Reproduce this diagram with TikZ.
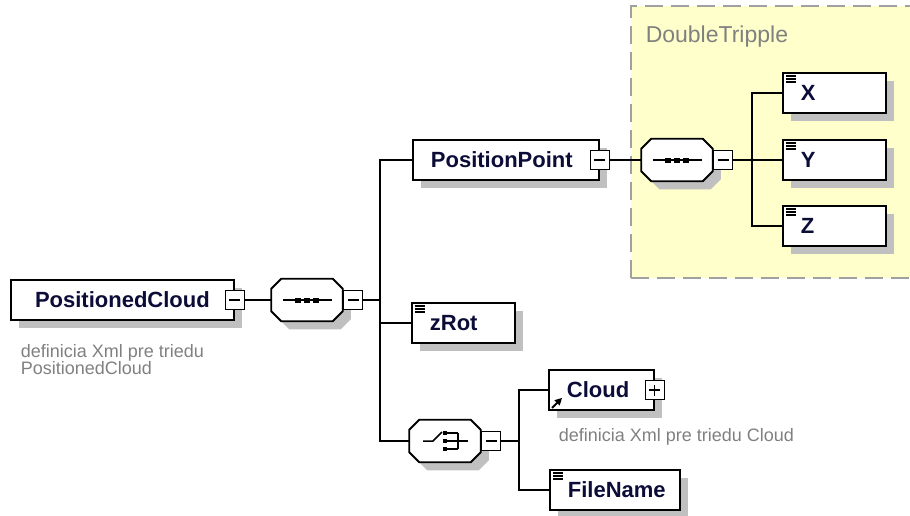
\documentclass[tikz,border=0pt]{standalone}
\usepackage{fontspec}
\setmainfont{Liberation Sans}
\usetikzlibrary{shadows,arrows.meta}
\definecolor{shade}{RGB}{192,192,192}
\definecolor{groupfill}{RGB}{255,255,204}
\definecolor{grpline}{RGB}{160,160,160}
\definecolor{ink}{RGB}{12,12,56}
\definecolor{note}{RGB}{128,128,128}

\begin{document}
\begin{tikzpicture}[x=1pt, y=-1pt, line width=1.5pt,
    shadowed/.style = {general shadow={fill=shade, shadow xshift=8pt, shadow yshift=-8pt}},
    elem/.style = {shape=rectangle, draw, line width=1.8pt, fill=white, shadowed, anchor=west, text width=#1, align=left, inner xsep=18pt, inner ysep=0pt, minimum height=40pt, text=ink, font=\fontsize{22}{24}\selectfont\bfseries},
    elem/.default=67pt,
    simple/.style = {elem=#1, path picture={\foreach \k in {3,6,9} \draw[line width=1.3pt] ([shift={(3pt,-\k pt)}]path picture bounding box.north west) -- +(10pt,0);}},
    simple/.default=67pt,
    comp/.style = {shape=rectangle, inner sep=0pt, minimum width=70pt, minimum height=41pt},
    octagon/.style = {draw, line width=1.8pt, fill=white, shadowed},
    togbox/.style = {shape=rectangle, draw, fill=white, line width=1.5pt, minimum size=19pt, inner sep=0pt},
    minus/.style = {togbox, path picture={\draw[line width=1.3pt] ([xshift=4pt]path picture bounding box.west) -- ([xshift=-4pt]path picture bounding box.east);}},
    plus/.style = {togbox, path picture={\draw[line width=1.3pt] ([xshift=4pt]path picture bounding box.west) -- ([xshift=-4pt]path picture bounding box.east); \draw[line width=1.3pt] ([yshift=4pt]path picture bounding box.south) -- ([yshift=-4pt]path picture bounding box.north);}},
    note/.style = {text=note, font=\fontsize{18}{17}\selectfont, align=left, inner sep=0pt},
    group/.style = {shape=rectangle, draw=grpline, dash pattern=on 18pt off 8pt, fill=groupfill, line width=1.8pt}]
  \useasboundingbox (0,0) rectangle (910,515);

  % group holding the three coordinates
  \node[group, anchor=north west, minimum width=283pt, minimum height=272pt] (dt) at (630,5) {};
  \node[text=note, font=\fontsize{23}{24}\selectfont, anchor=base west, inner sep=0pt] (dtName) at (645,42) {DoubleTripple};

  % compositors (outline drawn below)
  \node[comp] (seq) at (307,300) {};
  \node[comp] (ch) at (445,441) {};
  \node[comp] (dtSeq) at (677,160) {};
  \foreach \s in {seq, ch, dtSeq}
    \draw[octagon] ([xshift=10pt]\s.north west) -- ([xshift=-10pt]\s.north east)
      -- ([yshift=-10pt]\s.north east) -- ([yshift=10pt]\s.south east)
      -- ([xshift=-10pt]\s.south east) -- ([xshift=10pt]\s.south west)
      -- ([yshift=10pt]\s.south west) -- ([yshift=-10pt]\s.north west) -- cycle;
  \node[minus, anchor=west] (seqTog) at (seq.east) {};
  \node[minus, anchor=west] (chTog) at (ch.east) {};
  \node[minus, anchor=west] (dtTog) at (dtSeq.east) {};

  % root element
  \node[elem=187pt, align=center] (pc) at (10,300) {PositionedCloud};
  \node[minus] (pcTog) at (pc.east) {};
  \node[note, anchor=north west] (pcNote) at (20,344) {definicia Xml pre triedu\\PositionedCloud};
  \coordinate (t1) at (380,300);

  \node[elem=150pt] (pp) at (412,160) {PositionPoint};
  \node[minus] (ppTog) at (pp.east) {};
  \node[simple] (zr) at (411,323) {zRot};
  \coordinate (t3) at (519,441);

  \node[elem=69pt] (cl) at (548,390) {Cloud};
  \node[plus] (clTog) at (cl.east) {};
  \node[note, anchor=base west] (clNote) at (558,441) {definicia Xml pre triedu Cloud};
  \node[simple=94pt] (fn) at (549,490) {FileName};

  % inside the group
  \coordinate (t2) at (752,160);
  \foreach \n/\y in {X/93, Y/160, Z/226}
    \node[simple] (\n) at (782,\y) {\n};

  % connectors
  \draw (pcTog.east) -- (seq.west);
  \draw (seqTog.east) -- (t1);
  \draw (pp.west) -| (t1) |- (ch.west);
  \draw (t1) |- (zr.west);
  \draw (chTog.east) -- (t3);
  \draw (cl.west) -| (t3) |- (fn.west);
  \draw (ppTog.east) -- (dtSeq.west);
  \draw (dtTog.east) -- (t2);
  \draw (X.west) -| (t2) |- (Z.west);
  \draw (t2) -- (Y.west);

  % sequence marks
  \foreach \s in {seq, dtSeq} {
    \begin{scope}[shift={(\s.center)}]
      \draw (-24,0) -- (25,0);
      \foreach \dx in {-9.5,0,9}
        \fill (\dx-3,-2.5) rectangle (\dx+3,2.5);
    \end{scope}
  }

  % choice mark
  \begin{scope}[shift={(ch.center)}]
    \draw (-22,0) -- (-12,0) -- (-3,-9);
    \foreach \dy in {-8,0,8} {
      \fill (-2,\dy-2) rectangle (2,\dy+2);
      \draw (2,\dy) -- (13,\dy);
    }
    \draw (13,-8) -- (13,8);
    \draw (13,0) -- (23,0);
  \end{scope}

  % reference arrow on Cloud
  \draw[-{Triangle[length=7pt,width=7pt]}, line width=2pt] ([shift={(4pt,3pt)}]cl.south west) -- +(10pt,10pt);
\end{tikzpicture}
\end{document}
